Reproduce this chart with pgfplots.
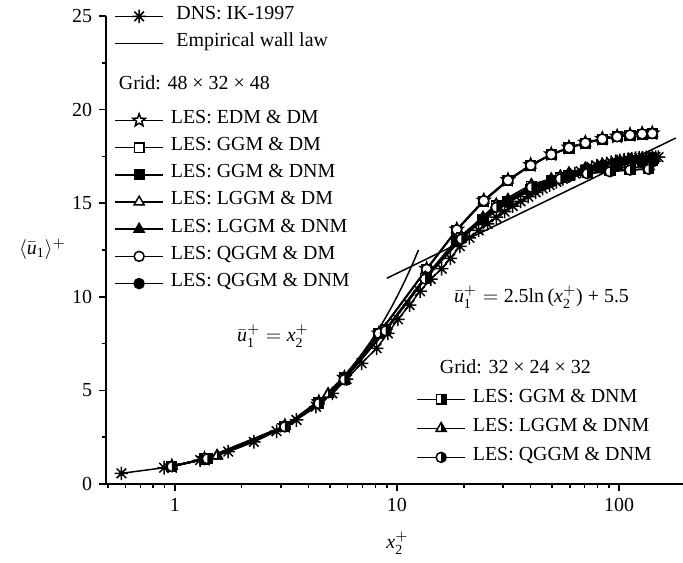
\documentclass[border=0pt]{standalone}
\usepackage{amsmath}
\usepackage{fontspec}
\setmainfont{Liberation Serif}
\usepackage{pgfplots}
\pgfplotsset{compat=1.18}

% 8-line asterisk
\pgfdeclareplotmark{ast8}{%
 \pgfpathmoveto{\pgfqpoint{0pt}{\pgfplotmarksize}}\pgfpathlineto{\pgfqpoint{0pt}{-\pgfplotmarksize}}%
 \pgfpathmoveto{\pgfqpoint{\pgfplotmarksize}{0pt}}\pgfpathlineto{\pgfqpoint{-\pgfplotmarksize}{0pt}}%
 \pgfpathmoveto{\pgfpointpolar{45}{\pgfplotmarksize}}\pgfpathlineto{\pgfpointpolar{225}{\pgfplotmarksize}}%
 \pgfpathmoveto{\pgfpointpolar{135}{\pgfplotmarksize}}\pgfpathlineto{\pgfpointpolar{315}{\pgfplotmarksize}}%
 \pgfusepathqstroke}
% open five-pointed star
\pgfdeclareplotmark{ostar}{%
 \pgfscope\pgfsetfillcolor{white}%
 \pgfpathmoveto{\pgfpointpolar{90}{\pgfplotmarksize}}%
 \pgfpathlineto{\pgfpointpolar{126}{0.42\pgfplotmarksize}}%
 \pgfpathlineto{\pgfpointpolar{162}{\pgfplotmarksize}}%
 \pgfpathlineto{\pgfpointpolar{198}{0.42\pgfplotmarksize}}%
 \pgfpathlineto{\pgfpointpolar{234}{\pgfplotmarksize}}%
 \pgfpathlineto{\pgfpointpolar{270}{0.42\pgfplotmarksize}}%
 \pgfpathlineto{\pgfpointpolar{306}{\pgfplotmarksize}}%
 \pgfpathlineto{\pgfpointpolar{342}{0.42\pgfplotmarksize}}%
 \pgfpathlineto{\pgfpointpolar{18}{\pgfplotmarksize}}%
 \pgfpathlineto{\pgfpointpolar{54}{0.42\pgfplotmarksize}}%
 \pgfpathclose
 \pgfusepath{fill,stroke}\endpgfscope}
% half-filled square (right half black)
\pgfdeclareplotmark{hsquare}{%
 \pgfscope\pgfsetfillcolor{white}%
 \pgfpathrectangle{\pgfpoint{-\pgfplotmarksize}{-\pgfplotmarksize}}{\pgfpoint{2\pgfplotmarksize}{2\pgfplotmarksize}}%
 \pgfusepath{fill,stroke}\endpgfscope
 \pgfscope\pgfsetfillcolor{black}%
 \pgfpathrectangle{\pgfpoint{0pt}{-\pgfplotmarksize}}{\pgfpoint{\pgfplotmarksize}{2\pgfplotmarksize}}%
 \pgfusepath{fill}\endpgfscope}
% half-filled triangle
\pgfdeclareplotmark{htriangle}{%
 \pgfscope\pgfsetfillcolor{white}%
 \pgfpathmoveto{\pgfpoint{0pt}{\pgfplotmarksize}}%
 \pgfpathlineto{\pgfpoint{-0.866\pgfplotmarksize}{-0.5\pgfplotmarksize}}%
 \pgfpathlineto{\pgfpoint{0.866\pgfplotmarksize}{-0.5\pgfplotmarksize}}%
 \pgfpathclose\pgfusepath{fill,stroke}\endpgfscope
 \pgfscope\pgfsetfillcolor{black}%
 \pgfpathmoveto{\pgfpoint{0pt}{\pgfplotmarksize}}%
 \pgfpathlineto{\pgfpoint{0pt}{-0.5\pgfplotmarksize}}%
 \pgfpathlineto{\pgfpoint{0.866\pgfplotmarksize}{-0.5\pgfplotmarksize}}%
 \pgfpathclose\pgfusepath{fill}\endpgfscope}
% half-filled circle
\pgfdeclareplotmark{hcircle}{%
 \pgfscope\pgfsetfillcolor{white}%
 \pgfpathcircle{\pgfpoint{0pt}{0pt}}{\pgfplotmarksize}%
 \pgfusepath{fill,stroke}\endpgfscope
 \pgfscope\pgfsetfillcolor{black}%
 \pgfpathmoveto{\pgfpoint{0pt}{\pgfplotmarksize}}%
 \pgfpatharc{90}{-90}{\pgfplotmarksize}%
 \pgfpathclose\pgfusepath{fill}\endpgfscope}

\begin{document}
\begin{tikzpicture}
\begin{axis}[
 scale only axis, width=288.5bp, height=234bp,
 xmode=log, xmin=0.49, xmax=194, ymin=0, ymax=25,
 every axis plot/.append style={black, line width=0.75bp},
 legend cell align=left,
 legend image code/.code={\draw[mark repeat=2,mark phase=2] plot coordinates {(0bp,0bp)(12bp,0bp)(24bp,0bp)};},
 axis x line=bottom, axis y line=left, axis line style={-, line width=0.9bp},
 tick align=outside, major tick length=3.5bp, minor tick length=2bp,
 tick style={line width=0.8bp, black},
 xtick={1,10,100}, xticklabels={1,10,100},
 minor xtick={0.5,0.6,0.7,0.8,0.9,2,3,4,5,6,7,8,9,20,30,40,50,60,70,80,90},
 ytick={0,5,10,15,20,25}, minor ytick={2.5,7.5,12.5,17.5,22.5},
 /pgf/number format/assume math mode=true,
 legend style={draw=none, fill=none, at={(0,1)}, anchor=north west, xshift=1bp, yshift=6.5bp,
   row sep=4.6bp, nodes={inner sep=0pt, text height=6bp, text depth=3bp},
   /tikz/every odd column/.append style={column sep=3.5bp}},
]
% DNS
\addplot[mark=ast8, mark size=3.4bp] coordinates {
(0.575,0.57)(0.895,0.87)(1.30,1.28)(1.74,1.73)(2.27,2.25)(2.87,2.82)(3.53,3.42)(4.32,4.13)
(5.12,4.84)(5.93,5.6)(6.93,6.45)(8.1,7.25)(9.1,8.05)(10.1,8.8)(11.4,9.56)(12.7,10.3)
(14.2,10.95)(15.9,11.5)(17.4,12.05)(19.2,12.7)(21.2,13.15)(23.3,13.55)(25.6,13.9)(28.0,14.25)
(30.5,14.55)(33.2,14.85)(36.0,15.1)(39.0,15.35)(42.1,15.58)(45.3,15.78)(48.7,15.97)(52.2,16.14)
(55.8,16.3)(59.5,16.45)(63.3,16.58)(67.2,16.7)(71.2,16.82)(75.3,16.92)(79.4,17.0)(83.6,17.07)
(87.9,17.13)(92.2,17.19)(96.5,17.24)(100.9,17.28)(105.3,17.32)(109.7,17.35)(114.2,17.38)(118.7,17.4)
(123.2,17.42)(127.7,17.43)(132.3,17.44)(136.8,17.45)(141.4,17.45)(145.9,17.46)(150.4,17.46)};
\addlegendentry{\hspace*{2.75bp}DNS: IK-1997}
% Empirical wall law: viscous sublayer
\addplot[no marks] coordinates {
(0.9,0.9)(1,1)(1.25,1.25)(1.5,1.5)(1.75,1.75)(2,2)(2.5,2.5)(3,3)(3.5,3.5)(4,4)(4.5,4.5)(5,5)
(5.5,5.5)(6,6)(6.5,6.5)(7,7)(7.5,7.5)(8,8)(8.5,8.5)(9,9)(9.5,9.5)(10,10)(10.5,10.5)(11,11)(11.5,11.5)(12,12)(12.5,12.5)};
\addlegendentry{\hspace*{2.75bp}Empirical wall law}
% log law
\addplot[no marks, forget plot] coordinates {(9,10.99)(180,18.48)};
\addlegendimage{empty legend}
\addlegendentry[text height=14.1bp, text depth=6.1bp]{\hspace*{-26bp}Grid: 48 × 32 × 48}
% EDM & DM
\addplot[mark=ostar, mark size=3.3bp] coordinates {
(0.97,0.95)(1.36,1.35)(3.13,3.1)(4.45,4.38)(5.8,5.68)(8.3,8.05)(13.6,11.5)(18.6,13.6)(24.6,15.15)
(31.6,16.25)(40,17.05)(49.5,17.62)(59.5,17.98)(70.5,18.24)(84,18.45)(98,18.57)(112,18.66)(127,18.72)(141,18.74)};
\addlegendentry{LES: EDM \& DM}
% GGM & DM
\addplot[mark=square*, mark size=2.4bp, mark options={fill=white}] coordinates {
(0.97,0.94)(1.36,1.34)(3.13,3.09)(4.45,4.36)(5.8,5.66)(8.3,8.02)(13.6,11.45)(18.6,13.55)(24.6,15.1)
(31.6,16.2)(40,17.0)(49.5,17.58)(59.5,17.95)(70.5,18.2)(84,18.42)(98,18.54)(112,18.63)(127,18.69)(141,18.71)};
\addlegendentry{LES: GGM \& DM}
% GGM & DNM
\addplot[mark=square*, mark size=2.4bp, mark options={fill=black}] coordinates {
(0.97,0.93)(1.36,1.33)(3.13,3.07)(4.45,4.3)(5.8,5.6)(8.9,8.25)(13.6,11.1)(18.6,13.0)(24.4,14.15)
(31.6,15.1)(40,15.75)(49.5,16.2)(59.5,16.5)(70.5,16.75)(84,16.95)(98,17.1)(112,17.2)(127,17.27)(141,17.3)};
\addlegendentry{LES: GGM \& DNM}
% LGGM & DM
\addplot[mark=triangle*, mark size=2.9bp, mark options={fill=white}] coordinates {
(0.97,0.95)(1.55,1.52)(3.13,3.1)(4.9,4.82)(5.8,5.68)(8.3,8.05)(13.6,11.48)(18.6,13.6)(24.6,15.17)
(31.6,16.24)(40,17.04)(49.5,17.6)(59.5,17.96)(70.5,18.22)(84,18.43)(98,18.56)(112,18.65)(127,18.71)(141,18.73)};
\addlegendentry{LES: LGGM \& DM}
% LGGM & DNM
\addplot[mark=triangle*, mark size=2.9bp, mark options={fill=black}] coordinates {
(0.97,0.94)(1.55,1.5)(3.13,3.08)(4.9,4.78)(5.8,5.62)(8.9,8.28)(13.6,11.15)(18.6,13.08)(24.4,14.25)
(31.6,15.2)(40,15.85)(49.5,16.3)(59.5,16.62)(70.5,16.88)(84,17.08)(98,17.23)(112,17.33)(127,17.4)(141,17.43)};
\addlegendentry{LES: LGGM \& DNM}
% QGGM & DM
\addplot[mark=*, mark size=2.5bp, mark options={fill=white}] coordinates {
(0.97,0.95)(1.36,1.35)(3.13,3.1)(4.45,4.37)(5.8,5.67)(8.3,8.04)(13.6,11.47)(18.6,13.58)(24.6,15.13)
(31.6,16.22)(40,17.02)(49.5,17.6)(59.5,17.96)(70.5,18.22)(84,18.43)(98,18.55)(112,18.64)(127,18.7)(141,18.72)};
\addlegendentry{LES: QGGM \& DM}
% QGGM & DNM
\addplot[mark=*, mark size=2.5bp, mark options={fill=black}] coordinates {
(0.97,0.93)(1.36,1.32)(3.13,3.06)(4.45,4.28)(5.8,5.58)(8.9,8.22)(13.6,11.05)(18.6,12.95)(24.4,14.08)
(31.6,15.03)(40,15.68)(49.5,16.12)(59.5,16.42)(70.5,16.67)(84,16.86)(98,17.0)(112,17.1)(127,17.16)(141,17.2)};
\addlegendentry{LES: QGGM \& DNM}
\end{axis}

\begin{axis}[
 scale only axis, width=288.5bp, height=234bp,
 xmode=log, xmin=0.49, xmax=194, ymin=0, ymax=25,
 hide axis,
 every axis plot/.append style={black, line width=0.75bp},
 legend cell align=left,
 legend image code/.code={\draw[mark repeat=2,mark phase=2] plot coordinates {(0bp,0bp)(12bp,0bp)(24bp,0bp)};},
 legend style={draw=none, fill=none, at={(0,0)}, anchor=north west, xshift=152bp, yshift=63.5bp,
   row sep=5.5bp, nodes={inner sep=0pt, text height=6bp, text depth=3bp},
   /tikz/every odd column/.append style={column sep=3.5bp}},
]
\addlegendimage{empty legend}
\addlegendentry{\hspace*{-16.5bp}Grid: 32 × 24 × 32}
\addplot[mark=hsquare, mark size=2.4bp] coordinates {
(0.97,0.94)(1.4,1.37)(3.13,3.08)(4.45,4.32)(5.8,5.6)(8.9,8.2)(13.4,11.0)(19.5,13.15)(28,14.85)
(40.3,15.9)(54.4,16.35)(71.8,16.62)(91,16.74)(112,16.8)(136,16.83)};
\addlegendentry{LES: GGM \& DNM}
\addplot[mark=htriangle, mark size=2.9bp] coordinates {
(0.97,0.95)(1.55,1.5)(3.13,3.09)(4.9,4.8)(5.8,5.62)(8.9,8.24)(13.4,11.05)(19.5,13.22)(28,14.95)
(40.3,16.0)(54.4,16.45)(71.8,16.72)(91,16.85)(112,16.92)(136,16.95)};
\addlegendentry{LES: LGGM \& DNM}
\addplot[mark=hcircle, mark size=2.5bp] coordinates {
(0.97,0.93)(1.4,1.35)(3.13,3.06)(4.45,4.3)(5.8,5.58)(8.9,8.18)(13.4,10.95)(19.5,13.08)(28,14.78)
(40.3,15.85)(54.4,16.3)(71.8,16.58)(91,16.68)(112,16.77)(136,16.81)};
\addlegendentry{LES: QGGM \& DNM}
\end{axis}

\node at (83.5bp,74bp) {$\bar{\textit{u}}_{\text{1}}^{+} = \textit{x}_{\text{2}}^{+}$};
\node at (217.75bp,93.5bp) {$\bar{\textit{u}}_{\text{1}}^{+} = \text{2.5ln\,(}\textit{x}_{\text{2}}^{+}\text{) + 5.5}$};
\node at (145.75bp,-29.5bp) {$\textit{x}_{\text{2}}^{+}$};
\node at (-31.75bp,117.5bp) {$\langle\bar{\textit{u}}_{\text{1}}\rangle^{+}$};

\pgfresetboundingbox
\path (-53bp,-39.5bp) rectangle (288.5bp,242bp);
\end{tikzpicture}
\end{document}
